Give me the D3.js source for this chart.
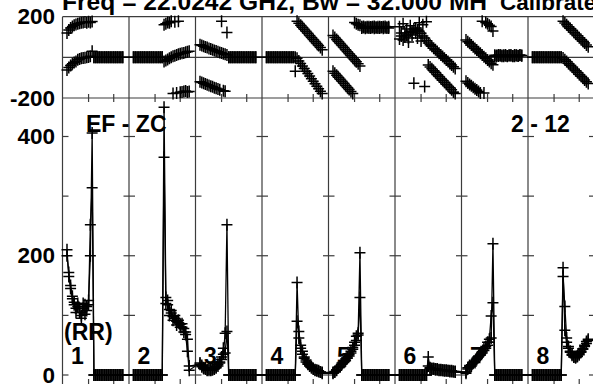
<!DOCTYPE html>
<html><head><meta charset="utf-8">
<script src="https://cdn.jsdelivr.net/npm/d3@7"></script>
<style>html,body{margin:0;padding:0;background:#fff;overflow:hidden}</style>
</head><body>
<svg id="c" width="593" height="384"></svg>
<script>
// ---------------- data ----------------
const ifLabels = ["1","2","3","4","5","6","7","8"];
const ampTicks = [0,100,200,300,400];
const ampTickLabels = [0,200,400];
const phaseTickLabels = [200,-200];
const chanTicks = [12,26];
const titleText = "Freq = 22.0242 GHz, Bw = 32.000 MH";
const titleText2 = "Calibrated";
const baselineText = "EF - ZC";
const rangeText = "2 - 12";
const stokesText = "(RR)";

const Z16 = [0,0,0,0,0,0,0,0,0,0,0,0,0,0,0,0];
const Z17 = [0,0,0,0,0,0,0,0,0,0,0,0,0,0,0,0,0];

// amplitude, scan A (per IF, 32 channels)
const ampA = [
  [200,172,145,132,118,112,120,105,100,112,118,108,125,200,406, ...Z17],
  [...Z17, 449,130,118,110,104,98,95,90,88,85,80,78,72,60,15],
  [18,14,12,10,9,8,8,9,10,12,15,20,26,35,70,252, ...Z16],
  [...Z17, 155,62,45,35,28,22,18,15,12,10,8,7,6,5,4],
  [4,6,9,12,15,18,21,24,28,32,37,43,50,58,70,205, ...Z16],
  [...Z16, 30,12,11,11,10,10,9,9,8,8,8,7,7,7,6,6],
  [3,10,14,17,20,23,26,30,33,37,41,45,50,55,62,220, ...Z16],
  [...Z17, 180,75,55,45,38,33,30,30,32,36,40,44,50,56,60]
];
// amplitude, scan B
const ampB = [
  [210,165,150,128,122,105,115,112,95,120,102,115,118,252,314, ...Z17],
  [...Z17, 365,120,125,100,108,92,100,84,92,80,86,72,68,40,8],
  [20,16,11,12,8,10,9,11,12,14,18,22,30,45,37,73, ...Z16],
  [...Z17, 90,73,50,40,30,25,20,16,14,11,9,8,7,5,3],
  [3,5,8,13,14,20,22,27,30,35,40,46,55,65,67,130, ...Z16],
  [...Z16, 15,11,10,10,9,9,8,8,8,7,7,7,6,6,6,5],
  [5,12,16,15,22,21,28,32,35,39,44,48,55,60,99,121, ...Z16],
  [...Z17, 165,115,62,48,40,35,31,29,31,34,38,43,48,53,58]
];
// phase, scan A (degrees)
const phaseA = [
  [-62,-50,-40,-32,-25,-20,-12,-8,-5,-3,-2,0,2,5,30, ...Z17],
  [...Z17, -20,-15,-10,-5,0,5,8,12,15,18,20,22,25,28,30],
  [62,58,55,51,48,44,41,37,34,31,27,24,21,18,15,12, ...Z16],
  [...Z17, -5,-18,-30,-42,-55,-68,-80,-92,-105,-118,-130,-142,-155,-167,-178],
  [108,98,88,78,68,58,48,38,28,18,8,-2,-12,-22,-32,-42, 150,152,148,150,151,149,150,152,148,150,151,149,150,152,148,150],
  [90,105,85,120,110,95,130,125,140,120,135,128,118,105,95,82, 70,62,54,45,37,29,20,12,4,-5,-13,-21,-30,-38,-46,-55],
  [85,77,69,61,52,44,36,28,20,12,3,-5,-13,-21,-29,-37, 10,6,12,8,9,5,11,7,10,8,6,12,9,7,10,8],
  [...Z17, -3,-12,-21,-30,-39,-48,-57,-66,-75,-84,-93,-102,-111,-120,-129]
];
// phase, scan B (degrees)
const phaseB = [
  [120,135,145,152,158,162,165,168,170,172,174,170,175,172,176, ...Z17],
  [...Z17, 160,165,172,170,178,-178,175,-175,178,-172,-170,-168,-165,-170,-168],
  [-120,-124,-128,-131,-135,-138,-142,-145,-149,-152,-156,-159,178,-164,-167,122, ...Z16],
  [...Z16, -68, 178,168,158,148,138,128,118,108,98,88,78,68,58,48,38],
  [-68,-78,-88,-98,-108,-118,-128,-138,-148,-158,-168,-178,172,165,160,158, 145,147,143,146,144,145,147,143,146,144,145,147,143,146,144,145],
  [150,120,165,100,140,75,155,110,-127,145,95,170,80,160,-143,175, -38,-47,-56,-66,-75,-85,-94,-104,-113,-122,-132,-141,-150,-160,-170,-178],
  [-118,-126,-133,-140,-147,-154,-161,-168,-175,178,-176,172,165,158,152,130, 4,9,7,11,6,10,8,5,9,12,7,6,10,8,11,9],
  [...Z17, 178,169,160,151,142,133,124,115,106,97,88,79,70,61,52]
];

// ---------------- drawing ----------------
const svg = d3.select("#c");
const FONT = "'Liberation Sans', Arial, Helvetica, sans-serif";
const nIF = ifLabels.length;
const panelX = d3.scaleLinear().domain([0, nIF]).range([62.5, 594.5]);
const pw = panelX(1) - panelX(0);
const chanX = d3.scaleLinear().domain([-2.5, 34.5]).range([0, pw]);
const phaseY = d3.scaleLinear().domain([-200, 200]).range([98, 16.7]);
const ampY = d3.scaleLinear().domain([0, 400]).range([375, 136.5]);
const topY = phaseY(200), midY = phaseY(-200), botY = 387;
const frameCol = "#3c3c3c";

const g = svg.append("g");
// frame lines
const hLines = [topY, midY, phaseY(0), botY];
g.selectAll("line.h").data(hLines).join("line")
  .attr("x1", panelX(0)).attr("x2", panelX(nIF))
  .attr("y1", d => d).attr("y2", d => d)
  .attr("stroke", frameCol).attr("stroke-width", 1.2);
g.selectAll("line.v").data(d3.range(nIF + 1)).join("line")
  .attr("x1", d => panelX(d)).attr("x2", d => panelX(d))
  .attr("y1", topY).attr("y2", botY)
  .attr("stroke", frameCol).attr("stroke-width", 1.2);

// channel ticks on mid frame and bottom frame
const xt = [];
d3.range(nIF).forEach(i => chanTicks.forEach(c => xt.push(panelX(i) + chanX(c))));
g.selectAll("line.xt").data(xt).join("line")
  .attr("x1", d => d).attr("x2", d => d)
  .attr("y1", midY - 4).attr("y2", midY + 4)
  .attr("stroke", frameCol).attr("stroke-width", 1.2);
g.selectAll("line.xb").data(xt).join("line")
  .attr("x1", d => d).attr("x2", d => d)
  .attr("y1", botY - 8).attr("y2", botY)
  .attr("stroke", frameCol).attr("stroke-width", 1.2);

// amplitude ticks on every divider
const yt = [];
d3.range(nIF + 1).forEach(i => ampTicks.forEach(v => yt.push({i, v})));
g.selectAll("line.yt").data(yt).join("line")
  .attr("x1", d => panelX(d.i) - (d.i === 0 ? 0 : 5.5))
  .attr("x2", d => panelX(d.i) + (d.i === nIF ? 0 : 6))
  .attr("y1", d => ampY(d.v)).attr("y2", d => ampY(d.v))
  .attr("stroke", frameCol).attr("stroke-width", 1.2);

// data helpers
function pts(series, yS) {
  const out = [];
  series.forEach((arr, i) => arr.forEach((v, c) => {
    if (v !== null) out.push([panelX(i) + chanX(c), yS(v)]);
  }));
  return out;
}
function crossPath(p, sx, sy) {
  return p.map(([x, y]) => `M${x - sx},${y}h${2 * sx}M${x},${y - sy}v${2 * sy}`).join("");
}
const line = d3.line();

const dataG = svg.append("g");
[ampA, ampB].forEach(series => {
  const p = pts(series, ampY);
  dataG.append("path").attr("d", line(p)).attr("fill", "none")
    .attr("stroke", "#000").attr("stroke-width", 1.3);
  dataG.append("path").attr("d", crossPath(p, 5.5, 6)).attr("fill", "none")
    .attr("stroke", "#000").attr("stroke-width", 1.5);
});
[phaseA, phaseB].forEach(series => {
  const p = pts(series, phaseY);
  dataG.append("path").attr("d", crossPath(p, 5.5, 6)).attr("fill", "none")
    .attr("stroke", "#000").attr("stroke-width", 1.5);
});

// texts
const txt = svg.append("g").attr("font-family", FONT).attr("font-weight", "bold").attr("fill", "#000");
txt.append("text").attr("x", 62).attr("y", 10).attr("font-size", 24.6).text(titleText);
txt.append("text").attr("x", 500).attr("y", 10).attr("font-size", 22.5).text(titleText2);
txt.selectAll("text.pl").data(phaseTickLabels).join("text")
  .attr("x", 55).attr("y", d => phaseY(d) + 7.5).attr("text-anchor", "end")
  .attr("font-size", 22.5).text(d => d);
txt.selectAll("text.al").data(ampTickLabels).join("text")
  .attr("x", 55).attr("y", d => ampY(d) + 7.5).attr("text-anchor", "end")
  .attr("font-size", 22.5).text(d => d);
txt.append("text").attr("x", 86).attr("y", 131.5).attr("font-size", 23).text(baselineText);
txt.append("text").attr("x", 511).attr("y", 131.5).attr("font-size", 23).text(rangeText);
txt.append("text").attr("x", 64).attr("y", 339.5).attr("font-size", 23).text(stokesText);
txt.selectAll("text.if").data(ifLabels).join("text")
  .attr("x", (d, i) => panelX(i) + 15).attr("y", 363.5).attr("text-anchor", "middle")
  .attr("font-size", 23).text(d => d);
</script>
</body></html>
